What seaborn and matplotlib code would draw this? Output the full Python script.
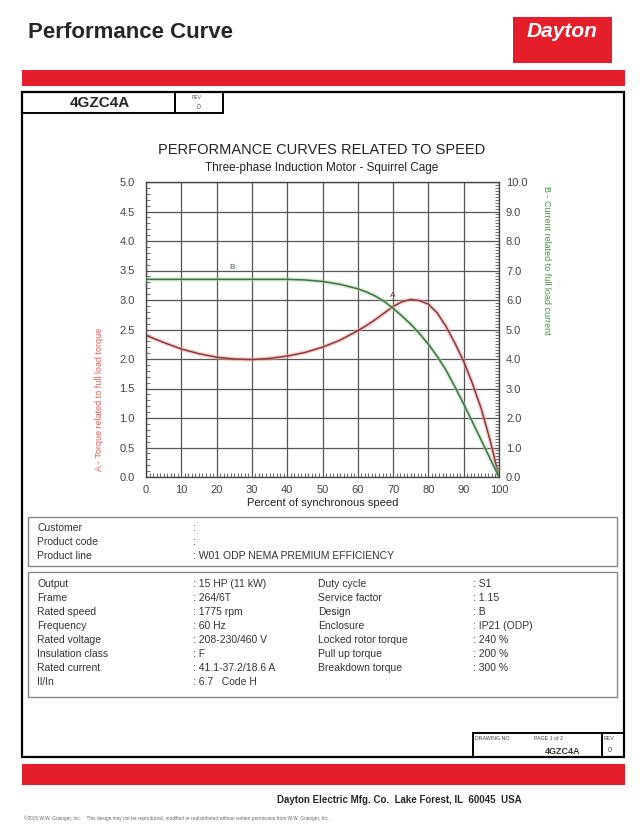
import numpy as np
import pandas as pd
import seaborn as sns
import matplotlib.pyplot as plt
from matplotlib.patches import Rectangle
from matplotlib.ticker import MultipleLocator, FormatStrFormatter

# values
speed = [0, 5, 10, 15, 20, 25, 30, 35, 40, 45, 50, 55, 60, 62.5, 65, 67.5, 70,
         72.5, 75, 77.5, 80, 82.5, 85, 87.5, 90, 92.5, 95, 97.5, 100]
torque = [2.40, 2.28, 2.17, 2.09, 2.03, 2.00, 1.99, 2.01, 2.05, 2.11, 2.20, 2.32,
          2.48, 2.57, 2.67, 2.78, 2.89, 2.97, 3.01, 2.99, 2.93, 2.78, 2.55, 2.27,
          1.96, 1.58, 1.15, 0.62, 0.0]
current = [6.70, 6.70, 6.70, 6.70, 6.70, 6.70, 6.70, 6.70, 6.70, 6.68, 6.63, 6.53,
           6.38, 6.27, 6.13, 5.95, 5.72, 5.46, 5.18, 4.86, 4.50, 4.09, 3.62, 3.06,
           2.47, 1.86, 1.24, 0.62, 0.0]

x_ticks = list(range(0, 101, 10))
torque_ticks = [0.0, 0.5, 1.0, 1.5, 2.0, 2.5, 3.0, 3.5, 4.0, 4.5, 5.0]
current_ticks = [0.0, 1.0, 2.0, 3.0, 4.0, 5.0, 6.0, 7.0, 8.0, 9.0, 10.0]

info_top = [("Customer", ":"), ("Product code", ":"),
            ("Product line", ": W01 ODP NEMA PREMIUM EFFICIENCY")]
info_left = [("Output", ": 15 HP (11 kW)"), ("Frame", ": 264/6T"),
             ("Rated speed", ": 1775 rpm"), ("Frequency", ": 60 Hz"),
             ("Rated voltage", ": 208-230/460 V"), ("Insulation class", ": F"),
             ("Rated current", ": 41.1-37.2/18.6 A"), ("Il/In", ": 6.7   Code H")]
info_right = [("Duty cycle", ": S1"), ("Service factor", ": 1.15"),
              ("Design", ": B"), ("Enclosure", ": IP21 (ODP)"),
              ("Locked rotor torque", ": 240 %"), ("Pull up torque", ": 200 %"),
              ("Breakdown torque", ": 300 %")]

RED = "#e41f2b"
TORQUE_C = "#8a3a3a"
CURRENT_C = "#3f723f"

sns.set_theme(style="white")
plt.rcParams['font.family'] = ['Liberation Sans', 'DejaVu Sans']

fig = plt.figure(figsize=(6.4, 8.34), dpi=100)

# page layer in pixel coordinates
page = fig.add_axes([0, 0, 1, 1])
page.set_xlim(0, 640)
page.set_ylim(834, 0)
page.axis('off')


def box(x0, y0, x1, y1, ec='black', lw=1.0, fc='none'):
    page.add_patch(Rectangle((x0, y0), x1 - x0, y1 - y0, ec=ec, fc=fc, lw=lw))


page.text(28, 32, "Performance Curve", fontsize=16, fontweight='bold', va='center')
box(513, 17, 612, 63, ec=RED, fc=RED, lw=0)
page.text(562, 31, "Dayton", fontsize=15, fontweight='bold', style='italic',
          color='white', ha='center', va='center')

box(22, 70, 625, 86, ec=RED, fc=RED, lw=0)
box(22, 92, 624, 757, lw=1.6)
box(22, 92, 175, 113, lw=1.4)
box(175, 92, 223, 113, lw=1.4)
page.text(100, 103, "4GZC4A", fontsize=11, fontweight='bold', ha='center', va='center')
page.text(197, 97, "REV", fontsize=3.5, ha='center', va='center', color='#555')
page.text(199, 107, "0", fontsize=5, ha='center', va='center', color='#555')

page.text(322, 150, "PERFORMANCE CURVES RELATED TO SPEED", fontsize=10.5,
          ha='center', va='center', color='#222')
page.text(322, 168, "Three-phase Induction Motor - Squirrel Cage", fontsize=8.5,
          ha='center', va='center', color='#222')

page.text(100, 399, "A - Torque related to full load torque", rotation=90,
          fontsize=6.5, color='#e0605a', ha='center', va='center')
page.text(546, 260, "B - Current related to full load current", rotation=270,
          fontsize=6.5, color='#3a9a3a', ha='center', va='center')

# info tables
box(28, 517, 617, 566, ec='#888', lw=1.0)
box(28, 572, 617, 697, ec='#888', lw=1.0)
for i, (lab, val) in enumerate(info_top):
    y = 528 + i * 14
    page.text(37, y, lab, fontsize=7.5, va='center', color='#333')
    page.text(193, y, val, fontsize=7.5, va='center', color='#333')
for i, (lab, val) in enumerate(info_left):
    y = 584 + i * 14
    page.text(37, y, lab, fontsize=7.5, va='center', color='#333')
    page.text(193, y, val, fontsize=7.5, va='center', color='#333')
for i, (lab, val) in enumerate(info_right):
    y = 584 + i * 14
    page.text(318, y, lab, fontsize=7.5, va='center', color='#333')
    page.text(473, y, val, fontsize=7.5, va='center', color='#333')

# drawing number block
box(473, 733, 602, 757, lw=1.4)
box(602, 733, 624, 757, lw=1.4)
page.text(475, 739, "DRAWING NO", fontsize=3.8, va='center', color='#444')
page.text(534, 739, "PAGE 1 of 2", fontsize=3.8, va='center', color='#444')
page.text(580, 751, "4GZC4A", fontsize=6.5, fontweight='bold', ha='right', va='center', color='#333')
page.text(604, 739, "REV", fontsize=3.8, va='center', color='#444')
page.text(608, 751, "0", fontsize=5, va='center', color='#444')

box(22, 764, 625, 785, ec=RED, fc=RED, lw=0)
page.text(277, 800, "Dayton Electric Mfg. Co.  Lake Forest, IL  60045  USA",
          fontsize=7, fontweight='bold', va='center')
page.text(24, 818, "\u00a92015 W.W. Grainger, Inc.    This design may not be reproduced, "
          "modified or redistributed without written permission from W.W. Grainger, Inc.",
          fontsize=3.4, va='center', color='#666')

# chart
df = pd.DataFrame({'speed': speed, 'torque': torque, 'current': current})
L, R, T, B = 146, 499, 182, 477
ax = fig.add_axes([L / 640, 1 - B / 834, (R - L) / 640, (B - T) / 834])
ax.set_facecolor('none')

sns.lineplot(data=df, x='speed', y='torque', ax=ax, color='#f2a0a0', lw=3, alpha=0.5)
sns.lineplot(data=df, x='speed', y='torque', ax=ax, color=TORQUE_C, lw=1.1)
ax.set_xlim(0, 100)
ax.set_ylim(0, 5)
ax.set_xticks(x_ticks)
ax.set_yticks(torque_ticks)
ax.yaxis.set_major_formatter(FormatStrFormatter('%.1f'))
ax.xaxis.set_minor_locator(MultipleLocator(1))
ax.yaxis.set_minor_locator(MultipleLocator(0.1))
ax.grid(True, which='major', color='#555', lw=0.9)
ax.tick_params(which='major', length=0, labelsize=8, labelcolor='#444')
ax.tick_params(axis='y', which='major', pad=8)
ax.tick_params(axis='x', which='major', pad=6)
ax.tick_params(which='minor', direction='in', length=3, width=0.6, color='#555',
               bottom=True, left=True, top=False, right=False)
ax.set_xlabel("Percent of synchronous speed", fontsize=8, color='#222', labelpad=2)
ax.set_ylabel("")
for s in ax.spines.values():
    s.set_color('#444')
    s.set_linewidth(1.0)
ax.text(70, 3.02, "A", fontsize=6, color=TORQUE_C, ha='center', va='bottom')

ax2 = ax.twinx()
sns.lineplot(data=df, x='speed', y='current', ax=ax2, color='#a8d8a8', lw=3, alpha=0.5)
sns.lineplot(data=df, x='speed', y='current', ax=ax2, color=CURRENT_C, lw=1.1)
ax2.set_ylim(0, 10)
ax2.set_yticks(current_ticks)
ax2.yaxis.set_major_formatter(FormatStrFormatter('%.1f'))
ax2.yaxis.set_minor_locator(MultipleLocator(0.1))
ax2.tick_params(which='major', length=0, labelsize=8, labelcolor='#444', pad=5)
ax2.tick_params(which='minor', direction='in', length=3, width=0.6, color='#555')
ax2.set_ylabel("")
for s in ax2.spines.values():
    s.set_visible(False)
ax2.text(24.5, 6.98, "B", fontsize=6, color=CURRENT_C, ha='center', va='bottom')

fig.savefig("out.png", dpi=100)
